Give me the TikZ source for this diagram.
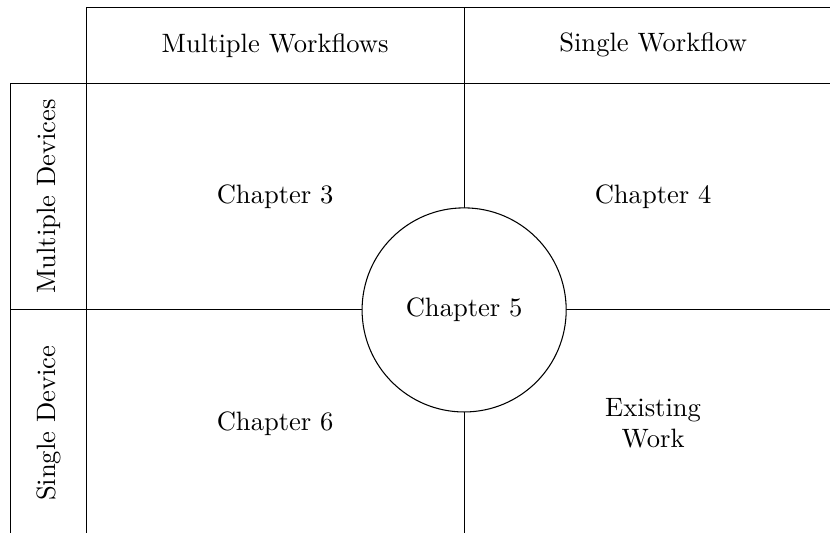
\documentclass[tikz,border=0pt]{standalone}
\usepackage{tikz}
\usetikzlibrary{positioning}

\begin{document}
\begin{tikzpicture}[
  cell/.style={draw, minimum width=5cm, minimum height=3cm, inner sep=0pt,
    align=center},
  head/.style={draw, minimum width=5cm, minimum height=1cm, inner sep=0pt},
  side/.style={draw, rotate=90, minimum width=3cm, minimum height=1cm,
    inner sep=0pt},
]
  \useasboundingbox (-6.14, -2.95) rectangle (4.84, 4.10);

  % column headers
  \node[head] (multiwf) at (-2.5, 3.5) {Multiple Workflows};
  \node[head] (singlewf) at (2.5, 3.5) {Single Workflow};

  % row headers
  \node[side] (multidev) at (-5.5, 1.5) {Multiple Devices};
  \node[side] (singledev) at (-5.5, -1.5) {Single Device};

  % quadrants
  \node[cell] (ch3) at (-2.5, 1.5) {Chapter 3};
  \node[cell] (ch4) at (2.5, 1.5) {Chapter 4};
  \node[cell] (ch6) at (-2.5, -1.5) {Chapter 6};
  \node[cell] (existing) at (2.5, -1.5) {Existing\\Work};

  % centre
  \node[circle, draw, fill=white, minimum size=2.7cm] (ch5) at (0, 0)
    {Chapter 5};
\end{tikzpicture}
\end{document}
